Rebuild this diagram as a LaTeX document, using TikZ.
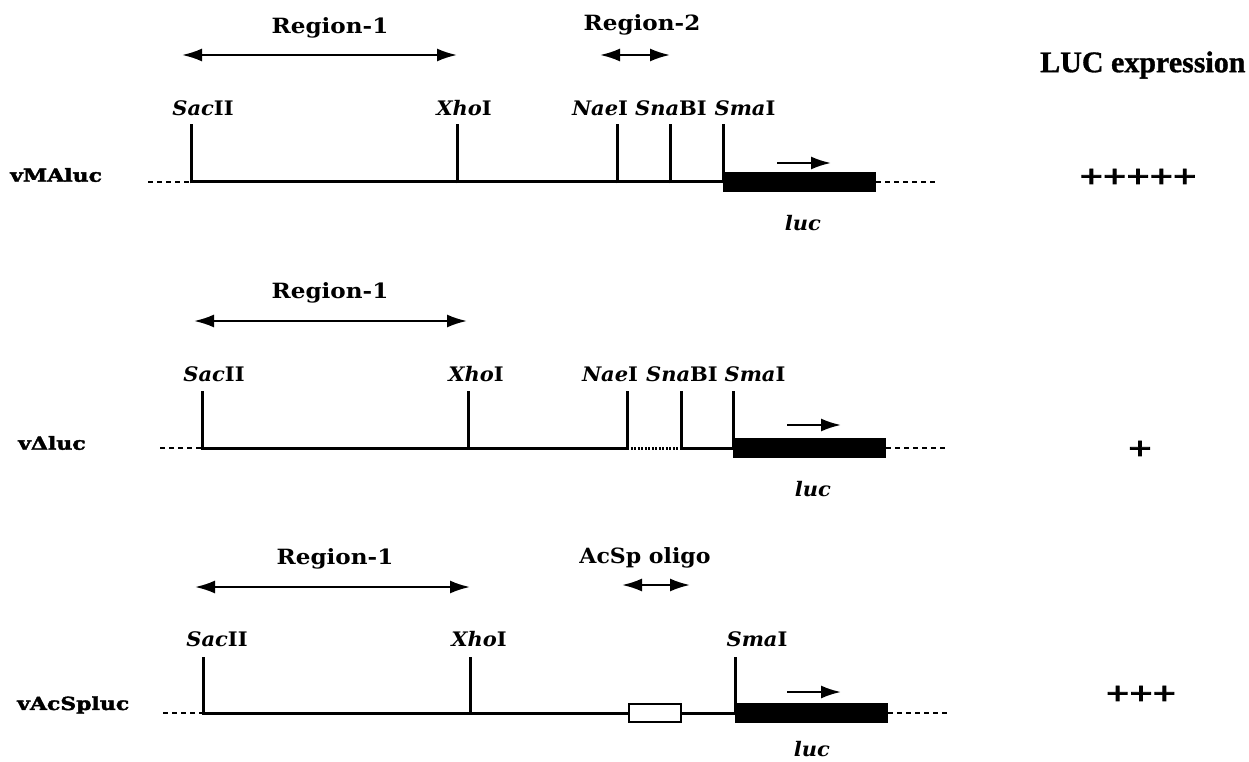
\documentclass[tikz,border=0pt]{standalone}
\usepackage{fontspec}
\usepackage{graphicx}
\setmainfont{DejaVu Serif}
\newfontfamily\heavyf{DejaVu Serif}[FakeBold=2]
\newfontfamily\timesf{Liberation Serif}[FakeBold=1]
\newfontfamily\plusf{Liberation Serif}[FakeBold=2.5]
\usetikzlibrary{arrows.meta}
\newcommand\bk[1]{\scalebox{1.05}[1]{#1}}
\newcommand\bkr[1]{\scalebox{1.1}[1]{#1}}
\newcommand\nm[1]{\scalebox{1.22}[1]{#1}}
\newcommand\pl[1]{\scalebox{1.28}[1]{#1}}
\begin{document}
\begin{tikzpicture}[x=1pt,y=-1pt,
  reg/.style={font=\bfseries\fontsize{21}{23}\selectfont, inner sep=0pt},
  cut/.style={font=\bfseries\fontsize{20}{22}\selectfont, inner sep=0pt},
  cname/.style={font=\heavyf\bfseries\fontsize{18}{20}\selectfont, anchor=west, inner sep=0pt},
  base/.style={line width=3pt},
  tick/.style={line width=3pt},
  dsh/.style={line width=2.2pt, dash pattern=on 5pt off 4pt},
  dotl/.style={line width=3pt, dash pattern=on 2pt off 1.5pt},
  tipL/.tip={Latex[length=20pt,width=13pt]},
  dbl/.style={line width=2.2pt, tipL-tipL},
  dirarr/.style={line width=2.2pt, -tipL},
  lucbox/.style={fill=black, minimum width=153pt, minimum height=20pt, inner sep=0pt, anchor=west},
  oligo/.style={draw=black, fill=white, line width=1.5pt, minimum width=52pt, minimum height=18pt, inner sep=0pt},
  plus/.style={font=\plusf\bfseries\fontsize{32}{32}\selectfont, inner sep=0pt},
  expr/.style={font=\timesf\bfseries\fontsize{30}{32}\selectfont, inner sep=0pt, anchor=west}
]
\useasboundingbox (0,0) rectangle (1249,762);

% ---------------- header
\node[expr] (hdr) at (1040,65) {LUC expression};

% ================= Row 1 : vMAluc (baseline 182)
\node[cname] (n1) at (10,175) {\nm{vMAluc}};
\coordinate (a1) at (148,182);
\coordinate (s1) at (191,182);
\coordinate (x1) at (457,182);
\coordinate (na1) at (617,182);
\coordinate (sn1) at (670,182);
\coordinate (sm1) at (723,182);
\coordinate (e1) at (937,182);
\draw[dsh] (a1) -- (s1);
\draw[base] (s1) -- (sm1);
\node[lucbox] (b1) at (sm1) {};
\draw[dsh] (b1.east) -- (e1);
\foreach \c in {s1,x1,na1,sn1,sm1} \draw[tick] ([yshift=-1.5pt]\c) -- ++(0,-59);
\node[reg] (r11) at (330,28) {\bkr{Region-1}};
\coordinate (r11a) at (182,55); \coordinate (r11b) at (457,55);
\draw[dbl] (r11a) -- (r11b);
\node[reg] (r12) at (642,25) {\bkr{Region-2}};
\coordinate (r12a) at (600,55); \coordinate (r12b) at (670,55);
\draw[dbl] (r12a) -- (r12b);
\node[cut] (l1sac) at (203,108) {\bk{{\itshape Sac}II}};
\node[cut] (l1xho) at (464,108) {\bk{{\itshape Xho}I}};
\node[cut] (l1nae) at (600,108) {\bk{{\itshape Nae}I}};
\node[cut] (l1sna) at (671,108) {\bk{{\itshape Sna}BI}};
\node[cut] (l1sma) at (745,108) {\bk{{\itshape Sma}I}};
\coordinate (t1a) at (777,163); \coordinate (t1b) at (831,163);
\draw[dirarr] (t1a) -- (t1b);
\node[cut] (luc1) at (803,223) {\bk{\itshape luc}};
\node[plus] (p1) at (1138,178) {\pl{+++++}};

% ================= Row 2 : vDeltaluc (baseline 448)
\node[cname] (n2) at (18,443) {\nm{vΔluc}};
\coordinate (a2) at (160,448);
\coordinate (s2) at (202,448);
\coordinate (x2) at (468,448);
\coordinate (na2) at (627,448);
\coordinate (sn2) at (681,448);
\coordinate (sm2) at (733,448);
\coordinate (e2) at (947,448);
\draw[dsh] (a2) -- (s2);
\draw[base] (s2) -- (na2);
\draw[dotl] (na2) -- (sn2);
\draw[base] (sn2) -- (sm2);
\node[lucbox] (b2) at (sm2) {};
\draw[dsh] (b2.east) -- (e2);
\foreach \c in {s2,x2,na2,sn2,sm2} \draw[tick] ([yshift=-1.5pt]\c) -- ++(0,-59);
\node[reg] (r21) at (330,293) {\bkr{Region-1}};
\coordinate (r21a) at (194,321); \coordinate (r21b) at (467,321);
\draw[dbl] (r21a) -- (r21b);
\node[cut] (l2sac) at (214,374) {\bk{{\itshape Sac}II}};
\node[cut] (l2xho) at (476,374) {\bk{{\itshape Xho}I}};
\node[cut] (l2nae) at (610,374) {\bk{{\itshape Nae}I}};
\node[cut] (l2sna) at (682,374) {\bk{{\itshape Sna}BI}};
\node[cut] (l2sma) at (755,374) {\bk{{\itshape Sma}I}};
\coordinate (t2a) at (787,425); \coordinate (t2b) at (841,425);
\draw[dirarr] (t2a) -- (t2b);
\node[cut] (luc2) at (813,489) {\bk{\itshape luc}};
\node[plus] (p2) at (1140,450) {\pl{+}};

% ================= Row 3 : vAcSpluc (baseline 713)
\node[cname] (n3) at (17,705) {\nm{vAcSpluc}};
\coordinate (a3) at (163,713);
\coordinate (s3) at (203,713);
\coordinate (x3) at (470,713);
\coordinate (sm3) at (735,713);
\coordinate (e3) at (948,713);
\draw[dsh] (a3) -- (s3);
\draw[base] (s3) -- (sm3);
\node[oligo] (o3) at (655,713) {};
\node[lucbox] (b3) at (sm3) {};
\draw[dsh] (b3.east) -- (e3);
\foreach \c in {s3,x3,sm3} \draw[tick] ([yshift=-1.5pt]\c) -- ++(0,-58);
\node[reg] (r31) at (335,559) {\bkr{Region-1}};
\coordinate (r31a) at (195,587); \coordinate (r31b) at (470,587);
\draw[dbl] (r31a) -- (r31b);
\node[reg] (r32) at (645,558) {\bk{AcSp oligo}};
\coordinate (r32a) at (622,585); \coordinate (r32b) at (690,585);
\draw[dbl] (r32a) -- (r32b);
\node[cut] (l3sac) at (217,639) {\bk{{\itshape Sac}II}};
\node[cut] (l3xho) at (479,639) {\bk{{\itshape Xho}I}};
\node[cut] (l3sma) at (757,639) {\bk{{\itshape Sma}I}};
\coordinate (t3a) at (787,692); \coordinate (t3b) at (841,692);
\draw[dirarr] (t3a) -- (t3b);
\node[cut] (luc3) at (812,749) {\bk{\itshape luc}};
\node[plus] (p3) at (1141,695) {\pl{+++}};
\end{tikzpicture}
\end{document}
